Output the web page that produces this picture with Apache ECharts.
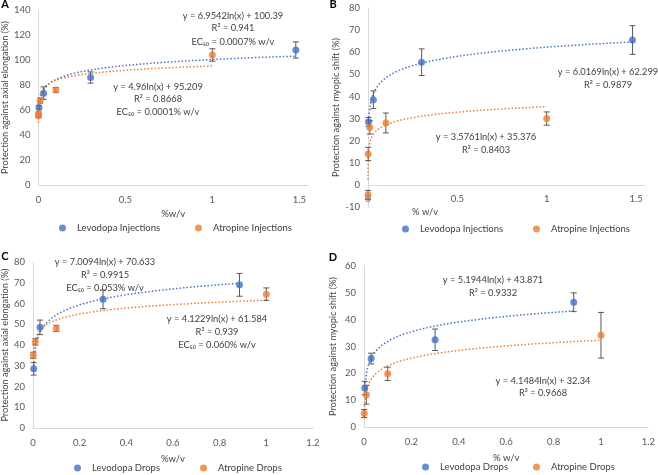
<!DOCTYPE html>
<html>
<head>
<meta charset="utf-8">
<script src="https://cdn.jsdelivr.net/npm/echarts@6/dist/echarts.min.js"></script>
<style>
  html, body { margin: 0; padding: 0; background: #fff; }
  #chart { width: 658px; height: 475px; }
</style>
</head>
<body>
<div id="chart"></div>
<script>
// panel A - injections, axial elongation
var xA_lev = [0.003, 0.03, 0.3, 1.48];
var yA_lev = [62, 73.5, 86, 108];
var eA_lev = [1.5, 5, 4.5, 6.5];
var xA_atr = [0.0001, 0.001, 0.01, 0.1, 1];
var yA_atr = [55.5, 57, 67.5, 76, 104];
var eA_atr = [1.5, 1.5, 2, 2, 5];
var fitA_lev = [6.9542, 100.39];
var fitA_atr = [4.96, 95.209];

// panel B - injections, myopic shift
var xB_lev = [0.003, 0.03, 0.3, 1.48];
var yB_lev = [28.5, 38.5, 55.5, 65.5];
var eB_lev = [2, 4, 6, 6.5];
var xB_atr = [0.0001, 0.001, 0.01, 0.1, 1];
var yB_atr = [-4.5, 14, 26, 28, 30];
var eB_atr = [2, 3, 3, 4.5, 3];
var fitB_lev = [6.0169, 62.299];
var fitB_atr = [3.5761, 35.376];

// panel C - drops, axial elongation
var xC_lev = [0.003, 0.03, 0.3, 0.885];
var yC_lev = [28.5, 48.5, 62, 69];
var eC_lev = [3, 3.5, 4.5, 5.5];
var xC_atr = [0.001, 0.01, 0.1, 1];
var yC_atr = [35, 41.5, 48, 64.5];
var eC_atr = [1.5, 1.5, 1.5, 3];
var fitC_lev = [7.0094, 70.633];
var fitC_atr = [4.1229, 61.584];

// panel D - drops, myopic shift
var xD_lev = [0.003, 0.03, 0.3, 0.885];
var yD_lev = [14.5, 25.5, 32.5, 46.5];
var eD_lev = [2.5, 2, 4, 3.5];
var xD_atr = [0.001, 0.01, 0.1, 1];
var yD_atr = [5, 12, 19.8, 34.2];
var eD_atr = [1.5, 3.5, 2.5, 8.5];
var fitD_lev = [5.1944, 43.871];
var fitD_atr = [4.1484, 32.34];

var BLUE = '#4472C4';
var ORANGE = '#ED7D31';
var FONT = 'Lato, "Open Sans", sans-serif';
var TXT = '#404040';

function pts(xs, ys) {
  return xs.map(function (x, i) { return [x, ys[i]]; });
}
function errs(xs, ys, es) {
  return xs.map(function (x, i) { return [x, ys[i], es[i]]; });
}
// log trendline drawn from the equation shown on the chart
function trend(fit, xs) {
  var lo = Math.min.apply(null, xs), hi = Math.max.apply(null, xs);
  var out = [];
  for (var t = 0; t <= 120; t++) {
    var x = lo * Math.pow(hi / lo, t / 120);
    out.push([x, fit[0] * Math.log(x) + fit[1]]);
  }
  return out;
}

function errRender(params, api) {
  var x = api.value(0), y = api.value(1), e = api.value(2);
  var top = api.coord([x, y + e]);
  var bot = api.coord([x, y - e]);
  var st = { stroke: '#595959', lineWidth: 1 };
  return {
    type: 'group',
    children: [
      { type: 'line', shape: { x1: top[0], y1: top[1], x2: bot[0], y2: bot[1] }, style: st },
      { type: 'line', shape: { x1: top[0] - 3, y1: top[1], x2: top[0] + 3, y2: top[1] }, style: st },
      { type: 'line', shape: { x1: bot[0] - 3, y1: bot[1], x2: bot[0] + 3, y2: bot[1] }, style: st }
    ]
  };
}

var grids = [
  { left: 38, top: 10, width: 270, height: 175 },
  { left: 368, top: 8, width: 277, height: 199 },
  { left: 33, top: 262, width: 280, height: 166 },
  { left: 364, top: 266, width: 287, height: 161 }
];

function xAx(idx, max, interval, name, gap) {
  return {
    gridIndex: idx, type: 'value', min: 0, max: max, interval: interval,
    name: name, nameLocation: 'middle', nameGap: gap,
    nameTextStyle: { color: TXT, fontSize: 9.5, fontFamily: FONT },
    axisLine: { show: true, onZero: false, lineStyle: { color: '#d9d9d9' } },
    axisTick: { show: false },
    splitLine: { show: false },
    axisLabel: { color: '#595959', fontSize: 9.5, fontFamily: FONT, margin: 10, showMaxLabel: max === 1.2 }
  };
}
function yAx(idx, min, max, interval, name, gap) {
  return {
    gridIndex: idx, type: 'value', min: min, max: max, interval: interval,
    name: name, nameLocation: 'middle', nameGap: gap,
    nameTextStyle: { color: TXT, fontSize: 9.2, fontFamily: FONT },
    axisLine: { show: true, lineStyle: { color: '#d9d9d9' } },
    axisTick: { show: false },
    splitLine: { show: false },
    axisLabel: { color: '#595959', fontSize: 9.5, fontFamily: FONT, margin: 8 }
  };
}

var panels = [
  { lev: [xA_lev, yA_lev, eA_lev, fitA_lev], atr: [xA_atr, yA_atr, eA_atr, fitA_atr], names: ['Levodopa Injections', 'Atropine Injections'] },
  { lev: [xB_lev, yB_lev, eB_lev, fitB_lev], atr: [xB_atr, yB_atr, eB_atr, fitB_atr], names: ['Levodopa Injections', 'Atropine Injections'] },
  { lev: [xC_lev, yC_lev, eC_lev, fitC_lev], atr: [xC_atr, yC_atr, eC_atr, fitC_atr], names: ['Levodopa Drops', 'Atropine Drops'] },
  { lev: [xD_lev, yD_lev, eD_lev, fitD_lev], atr: [xD_atr, yD_atr, eD_atr, fitD_atr], names: ['Levodopa Drops', 'Atropine Drops'] }
];

var series = [];
panels.forEach(function (p, i) {
  [[p.lev, BLUE, p.names[0]], [p.atr, ORANGE, p.names[1]]].forEach(function (s, k) {
    var d = s[0];
    var tl = {
      type: 'line', xAxisIndex: i, yAxisIndex: i, silent: true,
      data: trend(d[3], d[0]), showSymbol: false, symbol: 'none',
      lineStyle: { color: s[1], width: 1.5, type: [1.5, 2] }, z: 2
    };
    // panel B: horizontal axis line crosses at zero
    if (i === 1 && k === 0) {
      tl.markLine = {
        silent: true, symbol: 'none', label: { show: false },
        lineStyle: { color: '#d9d9d9', type: 'solid', width: 1 },
        data: [{ yAxis: 0 }], z: 1
      };
    }
    series.push(tl);
    series.push({
      type: 'custom', xAxisIndex: i, yAxisIndex: i, silent: true,
      renderItem: errRender, data: errs(d[0], d[1], d[2]), z: 3
    });
    series.push({
      name: s[2], type: 'scatter', xAxisIndex: i, yAxisIndex: i,
      data: pts(d[0], d[1]), symbolSize: 7,
      itemStyle: { color: s[1] }, z: 4
    });
  });
});

function leg(name, color, x, y) {
  return {
    left: x, top: y, data: [{ name: name, itemStyle: { color: color } }],
    icon: 'circle', itemWidth: 7, itemHeight: 7, itemGap: 0, padding: 0,
    textStyle: { color: TXT, fontSize: 9.5, fontFamily: FONT, padding: [0, 0, 0, 6] },
    selectedMode: false
  };
}

function txt(s, x, y, bold) {
  return {
    type: 'text', style: {
      text: s, x: x, y: y, align: 'center', verticalAlign: 'middle',
      fill: bold ? '#000' : TXT, font: (bold ? 'bold 11px ' : '9.3px ') + FONT
    }
  };
}

var xB = xAx(1, 1.55, 0.5, '', 28);
xB.axisLine.show = false;
xB.axisLabel.margin = -13;

var option = {
  animation: false,
  backgroundColor: '#fff',
  grid: grids,
  xAxis: [
    xAx(0, 1.55, 0.5, '%w/v', 24),
    xB,
    xAx(2, 1.2, 0.2, '%w/v', 26),
    xAx(3, 1.2, 0.2, '% w/v', 26)
  ],
  yAxis: [
    yAx(0, 0, 140, 20, 'Protection against axial elongation (%)', 28),
    yAx(1, -10, 80, 10, 'Protection against myopic shift (%)', 27),
    yAx(2, 0, 80, 10, 'Protection against axial elongation (%)', 23),
    yAx(3, 0, 60, 10, 'Protection against myopic shift (%)', 26)
  ],
  legend: [
    leg('Levodopa Injections', BLUE, 59, 223),
    leg('Atropine Injections', ORANGE, 195, 223),
    leg('Levodopa Injections', BLUE, 402, 224),
    leg('Atropine Injections', ORANGE, 533, 224),
    leg('Levodopa Drops', BLUE, 74, 463),
    leg('Atropine Drops', ORANGE, 200, 463),
    leg('Levodopa Drops', BLUE, 422, 462),
    leg('Atropine Drops', ORANGE, 533, 462)
  ],
  graphic: [
    txt('A', 5, 4, true), txt('B', 333, 4, true), txt('C', 5, 256, true), txt('D', 333, 257, true),
    txt('% w/v', 425, 212),
    txt('y = 6.9542ln(x) + 100.39', 233, 16), txt('R² = 0.941', 233, 28), txt('EC₅₀ = 0.0007% w/v', 233, 42),
    txt('y = 4.96ln(x) + 95.209', 158, 87), txt('R² = 0.8668', 158, 99), txt('EC₅₀ = 0.0001% w/v', 158, 112),
    txt('y = 6.0169ln(x) + 62.299', 608, 72), txt('R² = 0.9879', 608, 85),
    txt('y = 3.5761ln(x) + 35.376', 486, 137), txt('R² = 0.8403', 486, 150),
    txt('y = 7.0094ln(x) + 70.633', 105, 262), txt('R² = 0.9915', 105, 275), txt('EC₅₀ = 0.053% w/v', 105, 288),
    txt('y = 4.1229ln(x) + 61.584', 217, 319), txt('R² = 0.939', 217, 332), txt('EC₅₀ = 0.060% w/v', 217, 345),
    txt('y = 5.1944ln(x) + 43.871', 493, 280), txt('R² = 0.9332', 493, 293),
    txt('y = 4.1484ln(x) + 32.34', 543, 381), txt('R² = 0.9668', 543, 393)
  ],
  series: series
};

var chart = echarts.init(document.getElementById('chart'));
chart.setOption(option);
</script>
</body>
</html>
